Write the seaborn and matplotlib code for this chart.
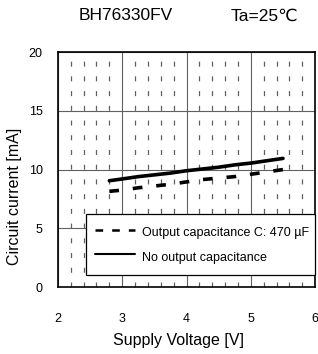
import matplotlib
matplotlib.use("Agg")
import matplotlib.pyplot as plt
import pandas as pd
import seaborn as sns
from matplotlib.lines import Line2D
from matplotlib.ticker import MultipleLocator

# data
voltage = [2.8, 3.0, 3.25, 3.5, 3.75, 4.0, 4.25, 4.5, 4.75, 5.0, 5.25, 5.5]
current_cap = [8.15, 8.25, 8.45, 8.6, 8.75, 8.95, 9.15, 9.28, 9.4, 9.6, 9.8, 10.0]
current_nocap = [9.05, 9.2, 9.4, 9.55, 9.7, 9.9, 10.05, 10.2, 10.4, 10.55, 10.75, 10.95]
label_cap = "Output capacitance C: 470 µF"
label_nocap = "No output capacitance"
x_ticks = [2, 3, 4, 5, 6]
y_ticks = [0, 5, 10, 15, 20]

sns.set_theme(style="white")
plt.rcParams["font.family"] = ["Liberation Sans", "DejaVu Sans"]
plt.rcParams["lines.scale_dashes"] = False
plt.rcParams["text.color"] = "black"
plt.rcParams["axes.labelcolor"] = "black"

df = pd.DataFrame({"V": voltage, "cap": current_cap, "nocap": current_nocap})

fig = plt.figure(figsize=(3.18, 3.54), dpi=100)
ax = fig.add_axes([0.182, 0.189, 0.809, 0.664])

sns.lineplot(data=df, x="V", y="nocap", color="black", linewidth=2.6, ax=ax)
sns.lineplot(data=df, x="V", y="cap", color="black", linewidth=2.6,
             linestyle=(0, (7, 10)), ax=ax)

ax.set_xlim(2, 6)
ax.set_ylim(0, 20)
ax.set_xticks(x_ticks)
ax.set_yticks(y_ticks)
ax.xaxis.set_minor_locator(MultipleLocator(0.2))
ax.tick_params(which="both", length=0)
ax.tick_params(axis="x", pad=19, labelsize=9, colors="black")
ax.tick_params(axis="y", pad=11, labelsize=9, colors="black")

ax.grid(which="major", color="#606060", linewidth=0.8, linestyle="-")
ax.grid(which="minor", axis="x", color="#606060", linewidth=0.9,
        linestyle=(0, (3.6, 7.0)))
ax.set_axisbelow(True)

for s in ax.spines.values():
    s.set_color("black")
    s.set_linewidth(1.2)

ax.set_xlabel("Supply Voltage [V]", fontsize=11.5, va="center")
ax.set_ylabel("Circuit current [mA]", fontsize=11.5, va="center")
ax.xaxis.set_label_coords(0.467, -0.226)
ax.yaxis.set_label_coords(-0.167, 0.385)

handles = [
    Line2D([], [], color="black", linewidth=1.8, linestyle=(0, (5.5, 6.5))),
    Line2D([], [], color="black", linewidth=1.5),
]
leg = ax.legend(handles, [label_cap, label_nocap], loc="lower left",
                bbox_to_anchor=(0.109, 0.051, 0.891, 0.26), mode="expand",
                borderaxespad=0, fontsize=9, frameon=True, fancybox=False,
                handlelength=3.2, handletextpad=0.55, labelspacing=0.4,
                handleheight=2.0, borderpad=0.7)
leg.get_frame().set_edgecolor("black")
leg.get_frame().set_linewidth(0.9)
leg.get_frame().set_alpha(1)

fig.text(0.396, 0.955, "BH76330FV", ha="center", va="center", fontsize=12.5)
fig.text(0.83, 0.955, "Ta=25℃", ha="center", va="center", fontsize=12.5)

fig.savefig("out.png", dpi=100)
